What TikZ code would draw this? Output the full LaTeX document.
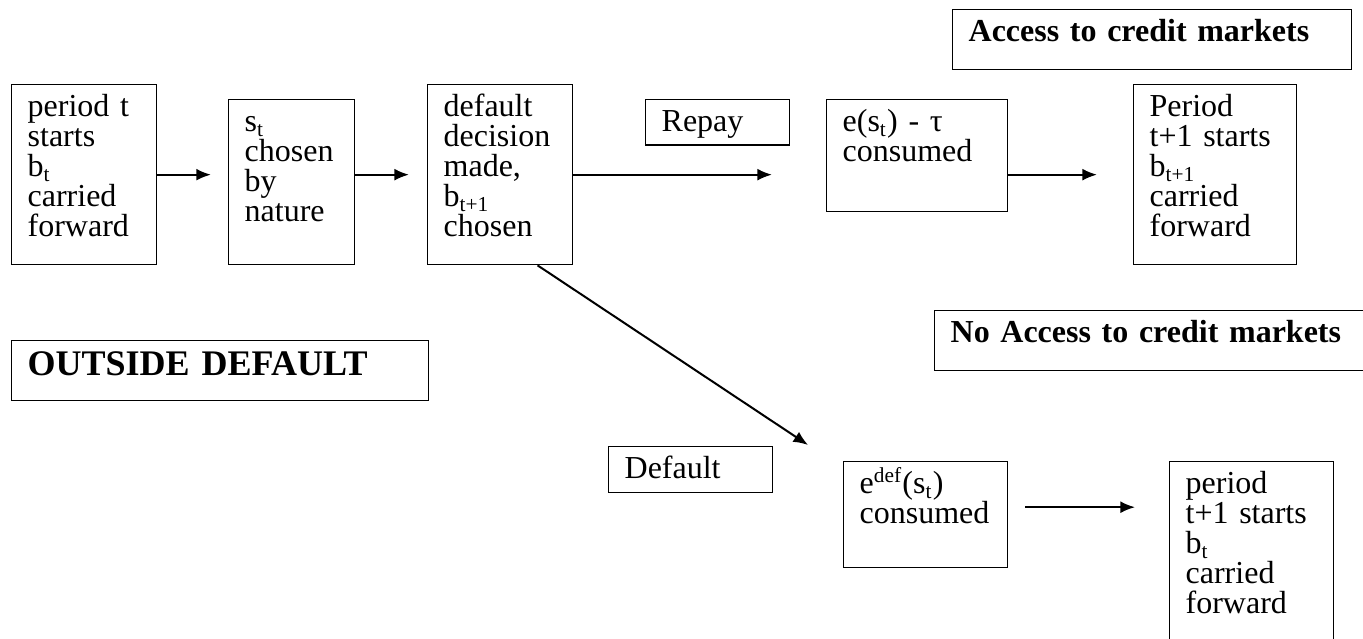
\documentclass[tikz,border=0pt]{standalone}
\usepackage{fontspec}
\setmainfont{Liberation Serif}
\usetikzlibrary{arrows.meta}
\setlength{\lineskiplimit}{-4pt}
\tikzset{
	stage/.style={draw, line width=0.5pt, anchor=north west, align=left,
			inner xsep=6pt, inner ysep=3pt, text height=9pt,
			font=\fontsize{12}{11.25}\selectfont},
	heading/.style={stage, font=\fontsize{12}{11.25}\selectfont\bfseries},
	flow/.style={-{Latex[length=5.5pt,width=4.5pt]}, line width=0.75pt}
}

\begin{document}
\begin{tikzpicture}[x=0.375pt, y=-0.375pt]
        \useasboundingbox (0, 0) rectangle (1363, 639);
        % upper row: repayment
        \node[heading, text width=137.6pt, text depth=7.5pt] (access) at (952, 9) {Access to credit markets};
        \node[stage, text width=42.4pt, text depth=52.5pt] (start_t) at (11, 84) {period t\\ starts\\ b\textsubscript{t}\\ carried\\ forward};
        \node[stage, text width=35.25pt, text depth=46.9pt] (nature) at (228, 99) {s\textsubscript{t}\\ chosen\\ by\\ nature};
        \node[stage, text width=42.4pt, text depth=52.5pt] (decide) at (427, 84) {default\\ decision\\ made,\\ b\textsubscript{t+1}\\ chosen};
        \node[stage, text width=42pt, text depth=2pt] (repay) at (645, 99) {Repay};
        \node[stage, text width=55.9pt, text depth=27pt] (repaid) at (826, 99) {e(s\textsubscript{t}) - τ\\ consumed};
        \node[stage, text width=49.1pt, text depth=52.5pt] (next_repay) at (1133, 84) {Period\\ t+1 starts\\ b\textsubscript{t+1}\\ carried\\ forward};
        % lower row: default
        \node[stage, font=\fontsize{13.5}{14}\selectfont\bfseries, text width=144.4pt, text height=10.1pt, text depth=6.4pt] (outside) at (11, 340) {OUTSIDE DEFAULT};
        \node[heading, text width=152.25pt, text depth=7.5pt] (no_access) at (934, 310) {No Access to credit markets};
        \node[stage, text width=49.5pt, text depth=2.25pt] (default) at (608, 446) {Default};
        \node[stage, text width=49.5pt, text depth=24.75pt] (defaulted) at (843, 461) {e\textsuperscript{def}(s\textsubscript{t})\\ consumed};
        \node[stage, text width=49.5pt, text depth=60pt] (next_default) at (1169, 461) {period\\ t+1 starts\\ b\textsubscript{t}\\ carried\\ forward};
        % arrows
        \draw[flow, shorten >=6.4pt] (start_t.east) -- (start_t.east -| nature.west);
        \draw[flow, shorten >=6.75pt] (nature.east |- start_t.east) -- (start_t.east -| decide.west);
        \draw[flow, shorten >=20.25pt] (decide.east) -- (decide.east -| repaid.west);
        \draw[flow, shorten >=13.5pt] (repaid.east |- decide.east) -- (decide.east -| next_repay.west);
        \coordinate (default_tail) at ([xshift=14pt]decide.south);
        \coordinate (default_tip) at ([xshift=-13.1pt, yshift=6pt]defaulted.north west);
        \draw[flow] (default_tail) -- (default_tip);
        \draw[flow, shorten <=6.4pt, shorten >=12.75pt] ([yshift=2.8pt]defaulted.east) -- ([yshift=2.8pt]defaulted.east -| next_default.west);
    \end{tikzpicture}
\end{document}
